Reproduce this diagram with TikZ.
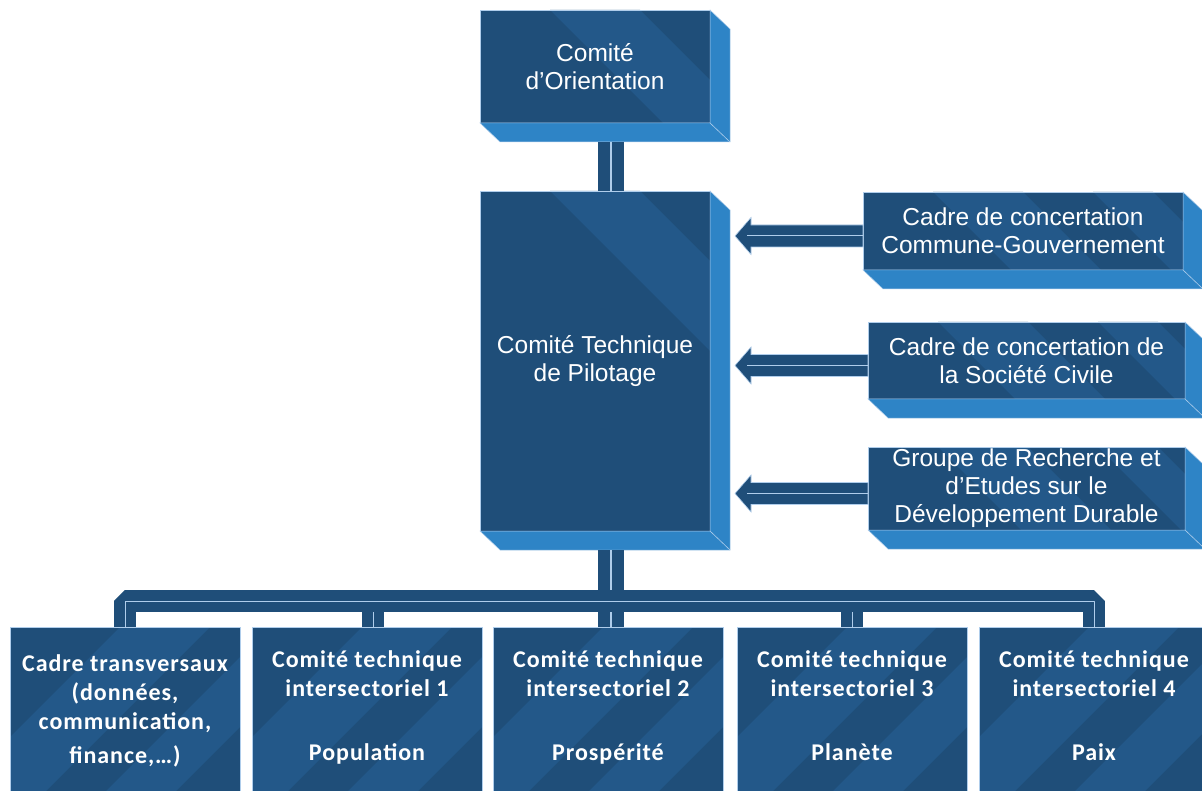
\documentclass[tikz,border=0pt]{standalone}
\usepackage{fontspec}
\setmainfont{Liberation Sans}
\newfontfamily\calfont[LetterSpace=4]{Carlito}
\usetikzlibrary{calc}
\definecolor{front}{RGB}{31,78,121}
\definecolor{band}{RGB}{35,88,137}
\definecolor{side}{RGB}{46,132,198}
\definecolor{edge}{RGB}{175,205,235}
\tikzset{
  box3d/.style={draw=edge, line width=0.7pt, fill=front, inner sep=0pt, outer sep=0pt,
    anchor=north west, align=center, text=white,
    font=\fontsize{24.5}{28}\selectfont,
    path picture={
      \fill[band] ($(path picture bounding box.north west)+(70,0)$) -- ++(90,0) -- ++(420,420) -- ++(-90,0) -- cycle;
      \fill[band] ($(path picture bounding box.north west)+(230,0)$) -- ++(60,0) -- ++(420,420) -- ++(-60,0) -- cycle;
    }},
  flatbox/.style={draw=edge, line width=0.7pt, fill=front, inner sep=0pt, outer sep=0pt,
    anchor=north west, minimum width=230, minimum height=200,
    path picture={
      \fill[band] ($(path picture bounding box.north west)+(-60,170)$) -- ++(90,0) -- ++(200,-200) -- ++(-90,0) -- cycle;
      \fill[band] ($(path picture bounding box.north west)+(90,170)$) -- ++(70,0) -- ++(200,-200) -- ++(-70,0) -- cycle;
    }},
  flattext/.style={inner sep=0pt, anchor=north, align=center, text=white,
    font=\calfont\bfseries\fontsize{24}{29}\selectfont},
  sidefill/.style={fill=side, draw=edge, line width=0.5pt},
  barline/.style={draw=front, line width=12pt, double=edge, double distance=1.2pt},
  busline/.style={draw=front, line width=10.5pt, double=edge, double distance=1pt, line join=bevel},
  arrowshape/.style={fill=front, draw=edge, line width=0.6pt, line join=miter}
}
\newcommand\mkdepth[1]{%
  \fill[sidefill] (#1.north east) -- ++(20,19) -- ($(#1.south east)+(20,19)$) --
    ($(#1.south west)+(20,19)$) -- (#1.south west) -- (#1.south east) -- cycle;
  \draw[edge, line width=0.6pt] (#1.south east) -- ++(20,19);}
\newcommand\mkarrow[2]{% #1 source box, #2 target box
  \coordinate (A#1) at ($(#1.west)+(0,5)$);
  \coordinate (T#1) at ($(#2.east |- A#1)+(25,0)$);
  \filldraw[arrowshape] (T#1) -- ++(16,-18.5) -- ++(0,7.5) -- ($(A#1)+(0,-11)$) --
    ($(A#1)+(0,11)$) -- ($(T#1)+(16,11)$) -- ($(T#1)+(16,18.5)$) -- cycle;
  \draw[edge, line width=1pt] ($(T#1)+(12,0)$) -- (A#1);}
\begin{document}
\begin{tikzpicture}[x=1pt,y=-1pt]
\useasboundingbox (0,0) rectangle (1202,791);
\clip (0,0) rectangle (1202,791);
\fill[white] (0,0) rectangle (1202,791);

% upper boxes
\node[box3d, minimum width=230, minimum height=113] (orient) at (480,10) {Comité\\d’Orientation};
\node[box3d, minimum width=230, minimum height=340] (pilot) at (480,191) {Comité Technique\\de Pilotage};
\node[box3d, minimum width=320, minimum height=78] (cc1) at (863,192) {Cadre de concertation\\Commune-Gouvernement};
\node[box3d, minimum width=317, minimum height=77] (cc2) at (868,322) {Cadre de concertation de\\la Société Civile};
\node[box3d, minimum width=317, minimum height=83] (cc3) at (868,447) {Groupe de Recherche et\\d’Etudes sur le\\Développement Durable};
\mkdepth{orient}
\mkdepth{pilot}
\mkdepth{cc1}
\mkdepth{cc2}
\mkdepth{cc3}

% lower boxes
\node[flatbox] (tA) at (10,627) {};
\node[flatbox] (tB) at (252,627) {};
\node[flatbox] (tC) at (493,627) {};
\node[flatbox] (tD) at (737,627) {};
\node[flatbox] (tE) at (979,627) {};
\node[flattext] (tAt) at ($(tA.north)+(0,24)$) {\strut Cadre transversaux\\(données,\\communication,\\[5pt]finance,…)};
\node[flattext] (tBt) at ($(tB.north)+(0,20)$) {\strut Comité technique\\intersectoriel 1\\[35pt]Population};
\node[flattext] (tCt) at ($(tC.north)+(0,20)$) {\strut Comité technique\\intersectoriel 2\\[35pt]Prospérité};
\node[flattext] (tDt) at ($(tD.north)+(0,20)$) {\strut Comité technique\\intersectoriel 3\\[35pt]Planète};
\node[flattext] (tEt) at ($(tE.north)+(0,20)$) {\strut Comité technique\\intersectoriel 4\\[35pt]Paix};

% connectors
\coordinate (bus) at (611,601);
\draw[barline] ($(orient.south)+(16,19)$) -- ($(pilot.north)+(16,0)$);
\draw[barline] ($(pilot.south)+(16,19)$) -- (tC.north -| bus);
\draw[busline] ($(tB.north)+(6,0)$) -- ($(tB.north |- bus)+(6,0)$);
\draw[busline] (tD.north) -- (tD.north |- bus);
\draw[busline] (tA.north) -- (tA.north |- bus) -- (tE.north |- bus) -- (tE.north);

\mkarrow{cc1}{pilot}
\mkarrow{cc2}{pilot}
\mkarrow{cc3}{pilot}
\end{tikzpicture}
\end{document}
